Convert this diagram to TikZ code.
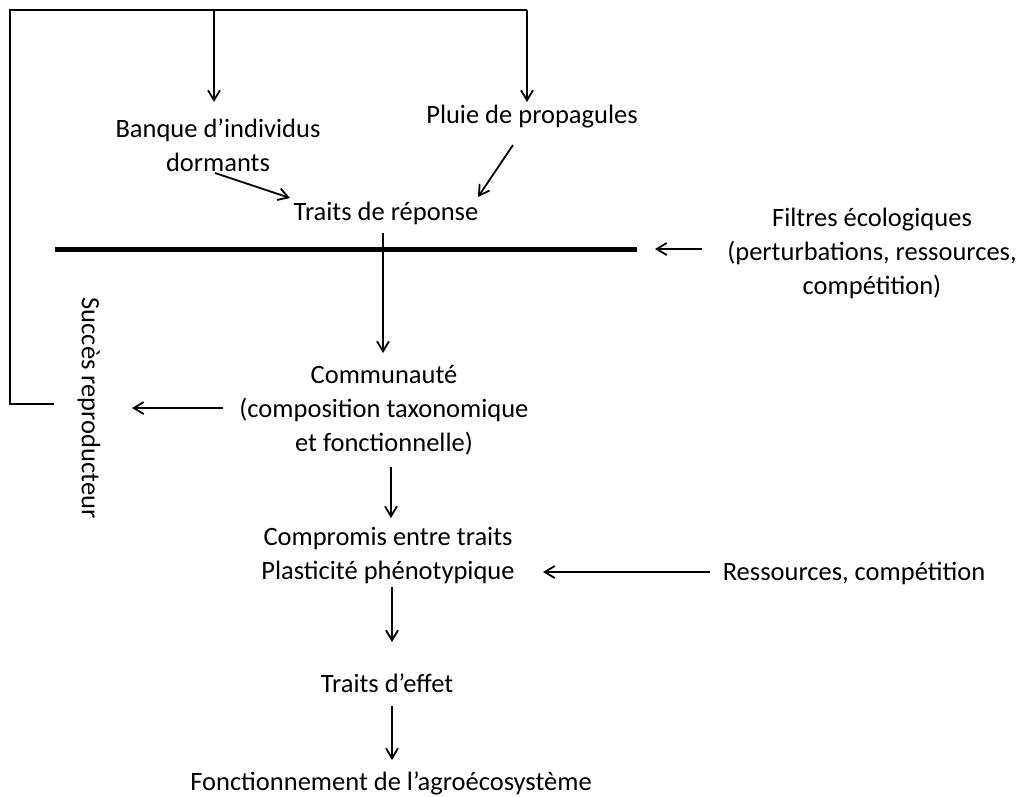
\documentclass[tikz,border=0pt]{standalone}
\usepackage{fontspec}
\setmainfont{Carlito}
\usetikzlibrary{arrows.meta}
\begin{document}
\begin{tikzpicture}[x=1pt,y=-1pt,
  lbl/.style={inner sep=0pt, outer sep=0pt, align=center, font=\fontsize{26.5}{34}\selectfont},
  conn/.style={line width=1.8pt},
  arr/.style={conn, -{Straight Barb[length=10pt,width=12pt]}},
  barrier/.style={line width=5pt}]
\useasboundingbox (0,0) rectangle (1019,796);
\fill[white] (0,0) rectangle (1019,796);

% text nodes
\node[lbl] (banque) at (218,145) {Banque d’individus\\dormants};
\node[lbl] (pluie) at (532,117) {Pluie de propagules};
\node[lbl] (traits) at (386,213) {Traits de réponse};
\node[lbl] (filtres) at (872,253) {Filtres écologiques\\(perturbations, ressources,\\compétition)};
\node[lbl] (comm) at (384,410) {Communauté\\(composition taxonomique\\et fonctionnelle)};
\node[lbl] (compromis) at (388,556) {Compromis entre traits\\Plasticité phénotypique};
\node[lbl] (ress) at (854,573) {Ressources, compétition};
\node[lbl] (effet) at (387,683) {Traits d’effet};
\node[lbl] (fonct) at (391,783) {Fonctionnement de l’agroécosystème};
\node[lbl, rotate=-90] (succes) at (89,408) {Succès reproducteur};

% coordinates of connector ends
\coordinate (loopEnd) at (54,404);
\coordinate (loopBL) at (10,404);
\coordinate (loopTL) at (10,10);
\coordinate (topA) at (214,10);
\coordinate (topB) at (527,10);
\coordinate (banqueTip) at (214,102);
\coordinate (pluieTip) at (527,102);
\coordinate (dormStart) at (215,173);
\coordinate (dormTip) at (290,198);
\coordinate (pluieStart) at (513,145);
\coordinate (pluieEnd) at (478,197);
\coordinate (barL) at (55,249);
\coordinate (barR) at (637,249);
\coordinate (filtStart) at (702,249);
\coordinate (filtTip) at (655,249);
\coordinate (trStart) at (383,233);
\coordinate (commTip) at (383,353);
\coordinate (commStart) at (223,408);
\coordinate (succTip) at (132,408);
\coordinate (commOut) at (391,467);
\coordinate (compIn) at (391,518);
\coordinate (ressStart) at (710,572);
\coordinate (ressTip) at (543,572);
\coordinate (compOut) at (392,587);
\coordinate (effetIn) at (392,642);
\coordinate (effetOut) at (392,706);
\coordinate (fonctIn) at (392,760);

% feedback loop
\draw[conn] (loopEnd) -- (loopBL) -- (loopTL) -- (topB);
\draw[arr] (topA) -- (banqueTip);
\draw[arr] (topB) -- (pluieTip);

% converging arrows
\draw[arr] (dormStart) -- (dormTip);
\draw[arr] (pluieStart) -- (pluieEnd);

% ecological filter barrier
\draw[barrier] (barL) -- (barR);
\draw[arr] (filtStart) -- (filtTip);

% main column
\draw[arr] (trStart) -- (commTip);
\draw[arr] (commStart) -- (succTip);
\draw[arr] (commOut) -- (compIn);
\draw[arr] (ressStart) -- (ressTip);
\draw[arr] (compOut) -- (effetIn);
\draw[arr] (effetOut) -- (fonctIn);
\end{tikzpicture}
\end{document}
